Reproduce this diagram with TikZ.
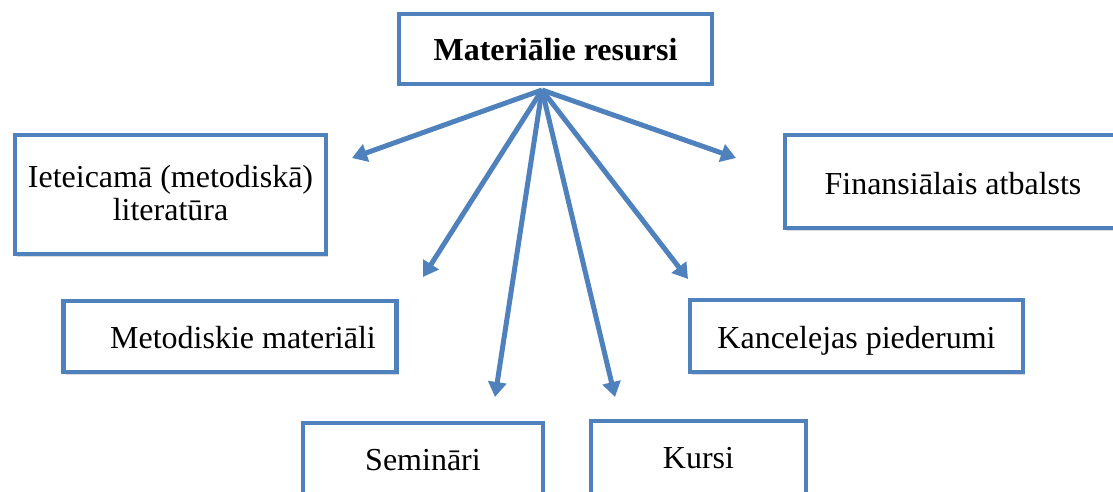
\documentclass[tikz,border=0pt]{standalone}
\usepackage{fontspec}
\setmainfont{Liberation Serif}
\usetikzlibrary{arrows.meta,shadows}
\definecolor{boxblue}{HTML}{4F81BD}
\newcommand{\baseat}[2]{\raisebox{#1}[0pt][0pt]{#2}}
\begin{document}
\begin{tikzpicture}[x=1pt,y=-1pt,
  box/.style={draw=boxblue,line width=4.5pt,fill=white,
    drop shadow={shadow xshift=2pt,shadow yshift=-2.5pt,opacity=0.25,fill=black!60},
    font=\fontsize{32}{36}\selectfont,align=center,inner sep=0pt},
  conn/.style={draw=boxblue,line width=5pt,-{Triangle[length=15pt,width=18pt]}}]
\useasboundingbox (0,0) rectangle (1113,492);
% boxes: corners given in pixel coordinates
\node[box,minimum width=313pt,minimum height=70pt] (top) at (555.5,49) {\baseat{-12pt}{\bfseries Materiālie resursi}};
\node[box,minimum width=311pt,minimum height=119pt] (iet) at (170.5,194.5) {\baseat{-25.5pt}{\renewcommand{\arraystretch}{0.89}\begin{tabular}[b]{@{}c@{}}Ieteicamā (metodiskā)\\literatūra\end{tabular}}};
\node[box,minimum width=340pt,minimum height=93pt] (fin) at (955,181.5) {\hspace*{-4pt}\baseat{-12.5pt}{Finansiālais atbalsts}};
\node[box,minimum width=333pt,minimum height=71pt] (met) at (230,336.5) {\hspace*{26pt}\baseat{-11.5pt}{Metodiskie materiāli}};
\node[box,minimum width=333pt,minimum height=72pt] (kan) at (856.5,336) {\baseat{-12pt}{Kancelejas piederumi}};
\node[box,minimum width=240pt,minimum height=110pt] (sem) at (423,478) {\baseat{8pt}{Semināri}};
\node[box,minimum width=215pt,minimum height=110pt] (kur) at (698.5,476) {\baseat{8pt}{Kursi}};
% hub and arrow ends
\coordinate (hub) at (542,90);
\coordinate (eiet) at (352,158);
\coordinate (emet) at (423,277);
\coordinate (esem) at (495,397);
\coordinate (ekur) at (615,397);
\coordinate (ekan) at (688,279);
\coordinate (efin) at (736,158);
\draw[conn] (hub) -- (eiet);
\draw[conn] (hub) -- (emet);
\draw[conn] (hub) -- (esem);
\draw[conn] (hub) -- (ekur);
\draw[conn] (hub) -- (ekan);
\draw[conn] (hub) -- (efin);
\end{tikzpicture}
\end{document}
